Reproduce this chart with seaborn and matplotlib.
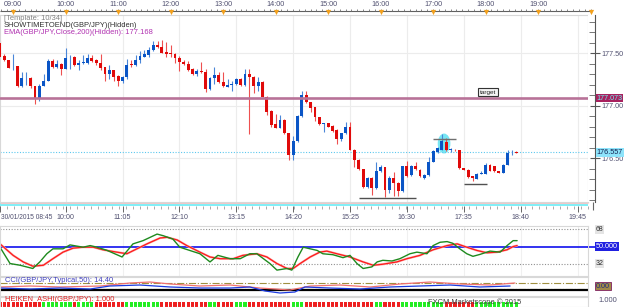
import matplotlib
matplotlib.use("Agg")
import matplotlib.pyplot as plt
import seaborn as sns
import numpy as np
import pandas as pd
from matplotlib.patches import Rectangle, Ellipse

sns.set_theme(style="white")
plt.rcParams['font.family'] = ['Liberation Sans', 'DejaVu Sans']

# ---------------- data ----------------
opens = [177.593,177.474,177.433,177.365,177.375,177.186,177.26,177.266,177.186,177.074,
         177.192,177.24,177.423,177.369,177.40,177.35,177.46,177.462,177.385,177.407,
         177.41,177.458,177.433,177.41,177.368,177.298,177.337,177.282,177.234,177.272,
         177.392,177.385,177.433,177.465,177.48,177.53,177.577,177.56,177.51,177.506,
         177.497,177.458,177.417,177.40,177.346,177.298,177.33,177.32,177.16,177.263,
         177.295,177.224,177.18,177.199,177.208,177.25,177.199,177.304,177.272,177.192,
         177.23,177.087,176.95,176.824,176.792,176.865,176.737,176.535,176.663,176.90,
         177.103,177.038,176.984,176.888,176.83,176.834,176.808,176.77,176.686,176.737,
         176.80,176.583,176.48,176.397,176.228,176.311,176.22,176.375,176.413,176.199,
         176.311,176.263,176.189,176.423,176.343,176.43,176.39,176.311,176.337,176.465,
         176.561,176.583,176.657,176.578,176.583,176.574,176.407,176.391,176.327,176.304,
         176.349,176.349,176.439,176.423,176.375,176.359,176.439,176.555,176.558]
highs = [177.625,177.49,177.44,177.497,177.38,177.32,177.32,177.275,177.19,177.208,
         177.304,177.442,177.449,177.44,177.41,177.545,177.487,177.47,177.433,177.487,
         177.497,177.487,177.449,177.497,177.37,177.385,177.34,177.29,177.28,177.442,
         177.433,177.48,177.52,177.53,177.56,177.615,177.615,177.625,177.609,177.577,
         177.50,177.47,177.433,177.423,177.36,177.353,177.417,177.353,177.27,177.369,
         177.32,177.32,177.25,177.24,177.26,177.26,177.353,177.353,177.28,177.272,
         177.24,177.09,176.955,176.92,176.91,176.87,176.74,176.712,176.91,177.144,
         177.144,177.04,176.99,176.89,176.84,176.84,176.815,176.78,176.74,176.846,
         176.846,176.59,176.49,176.40,176.317,176.317,176.46,176.44,176.42,176.33,
         176.37,176.27,176.43,176.47,176.44,176.46,176.40,176.35,176.51,176.575,
         176.61,176.727,176.695,176.60,176.59,176.58,176.41,176.395,176.33,176.36,
         176.38,176.455,176.445,176.43,176.38,176.445,176.583,176.583,176.565]
lows = [177.46,177.423,177.355,177.337,177.18,177.18,177.195,177.17,177.016,177.048,
        177.185,177.235,177.36,177.36,177.29,177.345,177.353,177.38,177.337,177.40,
        177.40,177.42,177.385,177.337,177.234,177.256,177.24,177.192,177.22,177.256,
        177.369,177.375,177.41,177.46,177.465,177.52,177.55,177.50,177.465,177.465,
        177.41,177.327,177.385,177.33,177.29,177.28,177.315,177.128,177.15,177.208,
        177.22,177.18,177.175,177.144,177.20,177.19,177.19,176.728,177.122,177.144,
        177.08,176.91,176.80,176.785,176.785,176.73,176.487,176.487,176.65,176.895,
        177.03,176.942,176.856,176.815,176.753,176.795,176.75,176.632,176.66,176.73,
        176.58,176.42,176.385,176.215,176.215,176.151,176.21,176.37,176.135,176.167,
        176.14,176.14,176.18,176.32,176.33,176.39,176.32,176.30,176.33,176.46,
        176.55,176.575,176.57,176.56,176.57,176.40,176.385,176.31,176.279,176.30,
        176.345,176.345,176.375,176.37,176.355,176.355,176.435,176.535,176.545]
closes = [177.465,177.433,177.362,177.37,177.186,177.263,177.265,177.186,177.074,177.192,
          177.24,177.423,177.369,177.40,177.353,177.455,177.462,177.385,177.41,177.417,
          177.458,177.423,177.41,177.362,177.298,177.337,177.272,177.234,177.272,177.39,
          177.385,177.439,177.471,177.49,177.535,177.577,177.56,177.506,177.497,177.49,
          177.455,177.417,177.40,177.337,177.298,177.327,177.32,177.16,177.263,177.29,
          177.224,177.186,177.199,177.208,177.25,177.199,177.304,177.272,177.192,177.23,
          177.087,176.942,176.814,176.792,176.865,176.737,176.535,176.663,176.904,177.103,
          177.038,176.974,176.888,176.824,176.834,176.80,176.76,176.686,176.737,176.80,
          176.583,176.48,176.397,176.228,176.311,176.22,176.375,176.413,176.199,176.311,
          176.263,176.189,176.423,176.327,176.43,176.40,176.327,176.343,176.465,176.567,
          176.599,176.663,176.574,176.583,176.574,176.407,176.391,176.317,176.311,176.349,
          176.353,176.439,176.381,176.375,176.359,176.439,176.551,176.558,176.551]

top_time_labels = ["09:00","10:00","11:00","12:00","13:00","14:00","15:00","16:00","17:00","18:00","19:00"]
bottom_time_labels = ["30/01/2015 08:45","10:00","11:05","12:10","13:15","14:20","15:25","16:30","17:35","18:40","19:45"]
price_ticks = [176.50, 177.00, 177.50]
resistance_level = 177.073
last_price = 176.557

# oscillator (candle index, value)
green_i = [0,2.3,4.6,7.5,9.1,10.7,12.1,14.4,16,19,20.6,22.2,24.5,27.9,30.4,32.7,35.9,37.3,39.5,41.1,
           45.7,48,49.8,52.6,54.9,57.1,58.7,61.7,63.3,65.6,66.7,68.1,69.3,70.9,72.5,73.8,76.1,78.4,80,
           81.6,83,85,86.2,87.5,89.6,91.4,93.7,95.3,97.6,99,100.6,102.2,103.5,105.1,106.7,108.1,109.7,
           112,114.3,115.9,117.3,118.2]
green_v = [49.3,32.1,30.3,26.9,33.8,42.4,47.6,47.6,51.7,49.3,51.0,49.3,45.9,39.0,52.8,56.2,63.1,61.4,57.9,49.3,
           42.4,33.8,40.7,37.2,37.2,42.4,42.4,32.1,25.2,26.9,25.2,39.0,49.3,47.6,45.9,42.4,41.4,38.3,40.7,
           32.1,26.9,28.6,33.8,35.5,34.8,37.2,42.4,44.1,42.4,51.0,54.5,55.2,53.4,47.6,42.4,39.7,41.7,
           45.2,44.1,51.0,56.2,56.2]
red_i = [0,3,5.3,7.5,9.9,12.1,14.4,16.7,19,21.3,23.5,26.7,29,31.3,33.6,36.6,38.2,40.5,42.7,45.7,48,50.3,
         53.3,55.5,58.7,61,63.3,65.6,67,68.6,70.9,73.1,74.7,77,80,83,85.3,87.5,90.7,93,96,99,102.2,104.5,
         106.7,109,111.3,113.6,115.9,117.3,118.2]
red_v = [52.8,40.7,33.8,29.3,30.3,37.2,44.1,48.3,49.3,49.3,46.6,44.1,42.4,47.6,52.8,59.0,59.7,56.9,51.0,44.1,
         39.0,37.2,37.2,40.7,42.4,39.0,32.1,26.9,26.9,32.1,39.0,44.1,45.2,42.4,39.0,33.8,30.3,31.4,33.8,
         37.2,40.7,46.6,51.0,52.8,49.3,45.9,43.4,44.1,46.6,50.0,51.0]

# CCI lines (candle index, value)
cci_blue_i = [0,6.9,13.7,20.6,25.1,32,38.9,45.7,52.6,57.1,60.6,64,67.4,69.7,75.4,82.3,89.1,96,102.9,109.7,116.6]
cci_blue_v = [-67,-100,-67,-100,0,33,-33,-67,-67,-33,-167,-233,-200,-33,-67,-100,-33,0,33,-33,0]
cci_red_i = [0,6.9,13.7,22.9,29.7,34.3,38.9,45.7,52.6,59.4,66.3,70.9,77.7,84.6,91.4,98.3,105.1,112,117.7]
cci_red_v = [-33,0,-33,0,100,133,67,0,33,-67,-133,0,33,-33,67,133,67,33,100]

ha_up = [0,0,0,0,0,0,0,0,0,0, 1,1,1,1,1,1,1,0,1,1, 1,1,0,0,0,0,0,0,0,1,
         1,1,1,1,1,1,1,0,0,0, 0,0,0,0,0,0,0,0,1,1, 0,0,0,0,1,1,1,0,0,0,
         0,0,0,0,0,0,0,1,1,1, 0,0,0,0,0,0,0,0,0,0, 0,0,0,0,0,0,1,1,0,0,
         0,0,1,1,1,1,1,1,1,1, 1,1,0,0,0,0,0,0,0,1, 1,1,1,1,1,1,1,1,1]

# ---------------- layout helpers ----------------
W, H = 625, 307
fig = plt.figure(figsize=(W/100, H/100), dpi=100)
fig.patch.set_facecolor('white')
PXI = 4.375  # pixels per candle
AXC = '#505070'

def rect(x0, y0, x1, y1):
    return [x0/W, 1 - y1/H, (x1-x0)/W, (y1-y0)/H]

def ftxt(x, y, s, **kw):
    kw.setdefault('fontsize', 5.4)
    kw.setdefault('va', 'center')
    fig.text(x/W, 1 - y/H, s, **kw)

n = len(opens)
idx = np.arange(n)
o = np.array(opens); h = np.array(highs); l = np.array(lows); c = np.array(closes)
XR = 588 / PXI
grid_idx = [15, 28, 41, 54, 67, 80, 93, 106, 119, 132]

def frame(ax, col='#d8d8d8'):
    for s in ax.spines.values():
        s.set_color(col); s.set_linewidth(0.8)
    ax.set_xticks([]); ax.set_yticks([])
    ax.set_facecolor('white')

# ---------------- main candle panel ----------------
ax = fig.add_axes(rect(0, 15, 588, 202))
frame(ax)
ymin, ymax = 176.083, 177.864
ax.set_xlim(0, XR); ax.set_ylim(ymin, ymax)
for p in [176.0, 176.5, 177.0, 177.5]:
    ax.axhline(p, color='#ececec', lw=0.8, zorder=0)
for gi in grid_idx:
    ax.axvline(gi, color='#ececec', lw=0.8, zorder=0)

ax.add_patch(Ellipse((101.5, 176.64), 2.9, 0.19, color='#55e0f0', alpha=0.8, zorder=1, lw=0))
up = c >= o
body_col = np.where(up, '#0a55c6', '#e00a0a')
wick_col = np.where(up, '#4a86d8', '#ee5050')
ax.vlines(idx, l, h, colors=wick_col, lw=0.8, zorder=2)
bot = np.minimum(o, c)
hgt = np.maximum(np.abs(c - o), 0.008)
ax.bar(idx, hgt, bottom=bot, width=0.66, color=body_col, linewidth=0, zorder=3)

ax.axhline(resistance_level, color='#b87298', lw=1.9, zorder=4)
ax.axhline(last_price, color='#5cc8ee', lw=0.8, ls=(0, (1, 1.5)), zorder=1)
ax.hlines(176.125, 82, 95, color='#505050', lw=1, zorder=4)
ax.hlines(176.686, 99, 104.2, color='#707070', lw=1, zorder=4)
ax.hlines(176.256, 106, 111.2, color='#505050', lw=1, zorder=4)
ax.text(111.6, 177.128, 'target', fontsize=4.6, ha='center', va='center', color='#222222',
        bbox=dict(boxstyle='square,pad=0.25', fc='#f4f4f4', ec='#333333', lw=0.8), zorder=5)

ftxt(4, 18.5, '[Template: 10/34]', color='#808080')
ftxt(4, 25.5, 'SHOWTIMETOEND(GBP/JPY)(Hidden)', color='#303030')
ftxt(4, 32.5, 'EMA(GBP/JPY,Close,200)(Hidden): 177.168', color='#b030b0')

# right price axis
rax = fig.add_axes(rect(588, 15, 595, 202))
rax.set_xlim(0, 1); rax.set_ylim(ymin, ymax)
for k, s in rax.spines.items():
    s.set_visible(k == 'right'); s.set_color('#555555'); s.set_linewidth(0.8)
rax.set_xticks([])
rax.yaxis.tick_right()
rax.set_yticks(price_ticks)
rax.set_yticklabels([f'{p:.2f}' for p in price_ticks])
rax.set_yticks(np.arange(176.1, 177.85, 0.1), minor=True)
rax.tick_params(axis='y', which='major', direction='inout', length=7, width=0.8, color='#555555',
                labelsize=5.2, labelcolor=AXC, pad=1)
rax.tick_params(axis='y', which='minor', direction='in', length=4, width=0.7, color='#777777')
rax.set_facecolor('white')
rax.text(1.2, resistance_level, '177.073', transform=rax.get_yaxis_transform(), fontsize=5.2,
         color='#70f0f0', va='center', ha='left', clip_on=False,
         bbox=dict(boxstyle='square,pad=0.12', fc='#a8205e', ec='none'))
rax.text(1.2, last_price, '176.557', transform=rax.get_yaxis_transform(), fontsize=5.2,
         color='#102050', va='center', ha='left', clip_on=False,
         bbox=dict(boxstyle='square,pad=0.12', fc='#8ee4fb', ec='none'))

# ---------------- top time axis ----------------
tax = fig.add_axes(rect(0, 0, 595, 15))
tax.set_xlim(0, 595 / PXI); tax.set_ylim(15, 0)
tax.axis('off')
tax.hlines(11, 0, 592 / PXI, color='#606060', lw=0.8)
minor_top = np.arange(3 - 12, 140, 12 / 9)
tax.vlines(minor_top, 9.3, 11, color='#707070', lw=0.6)
hour_idx = np.arange(3, 136, 12)
tax.scatter(hour_idx, np.full(len(hour_idx), 12), marker='v', s=14, color='#f2a01c', zorder=3, linewidths=0)
for k, lab in enumerate(top_time_labels):
    tax.text(hour_idx[k], 4.5, lab, fontsize=5.2, ha='center', va='center', color=AXC)

# ---------------- bottom time axis ----------------
bax = fig.add_axes(rect(0, 202, 595, 222))
bax.set_xlim(0, 595 / PXI); bax.set_ylim(222, 202)
bax.axis('off')
bax.add_patch(Rectangle((0, 203), XR, 3.2, color='#80f0f8', lw=0))
bax.hlines(202.6, 0, XR, color='#f0c8c8', lw=0.8)
minor_bot = np.arange(0, 135, 1.6)
bax.vlines(minor_bot, 206, 209, color='#888888', lw=0.5)
bax.vlines([0] + grid_idx, 206, 212, color='#666666', lw=0.7)
bax.vlines(588 / PXI + 1.2, 202, 210, color='#666666', lw=0.8)
bot_pos = [0] + grid_idx
for k, lab in enumerate(bottom_time_labels):
    if k == 0:
        bax.text(0.2, 217.5, lab, fontsize=4.8, ha='left', va='center', color=AXC)
    else:
        bax.text(bot_pos[k], 217.5, lab, fontsize=5.1, ha='center', va='center', color=AXC)

# ---------------- oscillator panel ----------------
oax = fig.add_axes(rect(0, 226, 588, 276))
frame(oax)
oax.set_xlim(0, XR); oax.set_ylim(19, 71.6)
for gi in grid_idx:
    oax.axvline(gi, color='#f0f0f0', lw=0.8, zorder=0)
oax.axhline(68, color='#909090', lw=0.8, ls=(0, (1, 1.5)))
oax.axhline(32, color='#909090', lw=0.8, ls=(0, (1, 1.5)))
oax.axhline(50, color='#1010ee', lw=1.2)
gdf = pd.DataFrame({'i': green_i, 'v': green_v})
rdf = pd.DataFrame({'i': red_i, 'v': red_v})
sns.lineplot(data=rdf, x='i', y='v', ax=oax, color='#f8b0b0', lw=1.6, sort=False)
sns.lineplot(data=rdf, x='i', y='v', ax=oax, color='#ff1a1a', lw=0.9, sort=False)
sns.lineplot(data=gdf, x='i', y='v', ax=oax, color='#1e8a1e', lw=1.0, sort=False)
oax.set_xlabel(''); oax.set_ylabel('')
oax.set_xticks([]); oax.set_yticks([])
oax.set_xlim(0, XR); oax.set_ylim(19, 71.6)
tr = oax.get_yaxis_transform()
oax.text(1.013, 68, '68', transform=tr, fontsize=5, color='#303030', va='center', clip_on=False,
         bbox=dict(boxstyle='square,pad=0.1', fc='#e4e4e4', ec='none'))
oax.text(1.013, 50, '50.000', transform=tr, fontsize=5.2, color='white', va='center', clip_on=False,
         bbox=dict(boxstyle='square,pad=0.12', fc='#2020e0', ec='none'))
oax.text(1.013, 32, '32', transform=tr, fontsize=5, color='#303030', va='center', clip_on=False,
         bbox=dict(boxstyle='square,pad=0.1', fc='#e4e4e4', ec='none'))
oax.plot([1.0, 1.012], [50, 50], transform=tr, color='#1010ee', lw=1.2, clip_on=False)

# ---------------- CCI panel ----------------
cax = fig.add_axes(rect(0, 277, 588, 296))
frame(cax)
cax.set_xlim(0, XR); cax.set_ylim(-333, 300)
cax.axhline(100, color='#a09040', lw=0.8, ls='-.')
cax.axhline(-100, color='#a09040', lw=0.8, ls='-.')
cax.axhline(-140, color='#000000', lw=1.6)
cbdf = pd.DataFrame({'i': cci_blue_i, 'v': cci_blue_v})
crdf = pd.DataFrame({'i': cci_red_i, 'v': cci_red_v})
sns.lineplot(data=crdf, x='i', y='v', ax=cax, color='#f07070', lw=0.9, sort=False)
sns.lineplot(data=cbdf, x='i', y='v', ax=cax, color='#1a3ae0', lw=0.9, sort=False)
cax.set_xlabel(''); cax.set_ylabel(''); cax.set_xticks([]); cax.set_yticks([])
cax.set_xlim(0, XR); cax.set_ylim(-333, 300)
ftxt(5, 281, 'CCI(GBP/JPY,Typical,50): 14.40', color='#4040c0')
cax.text(1.013, 0, '0.00', transform=cax.get_yaxis_transform(), fontsize=5.2, color='#203080',
         va='center', clip_on=False, bbox=dict(boxstyle='square,pad=0.12', fc='#a08848', ec='#802060', lw=0.6))

# ---------------- Heiken Ashi panel ----------------
hax = fig.add_axes(rect(0, 297, 588, 307))
frame(hax)
hax.set_xlim(0, XR); hax.set_ylim(0, 1)
ha_col = ['#22ee22' if u else '#ee2020' for u in ha_up]
hax.bar(idx, np.ones(n) * 0.55, bottom=0, width=0.72, color=ha_col, linewidth=0)
ftxt(5, 299.5, 'HEIKEN_ASHI(GBP/JPY): 1.000', color='#e02020')
ftxt(428, 302.5, 'FXCM Marketscope \u00a9 2015', color='#404040')
ftxt(598, 300, '1.000', color=AXC)

fig.savefig('out.png', dpi=100)
